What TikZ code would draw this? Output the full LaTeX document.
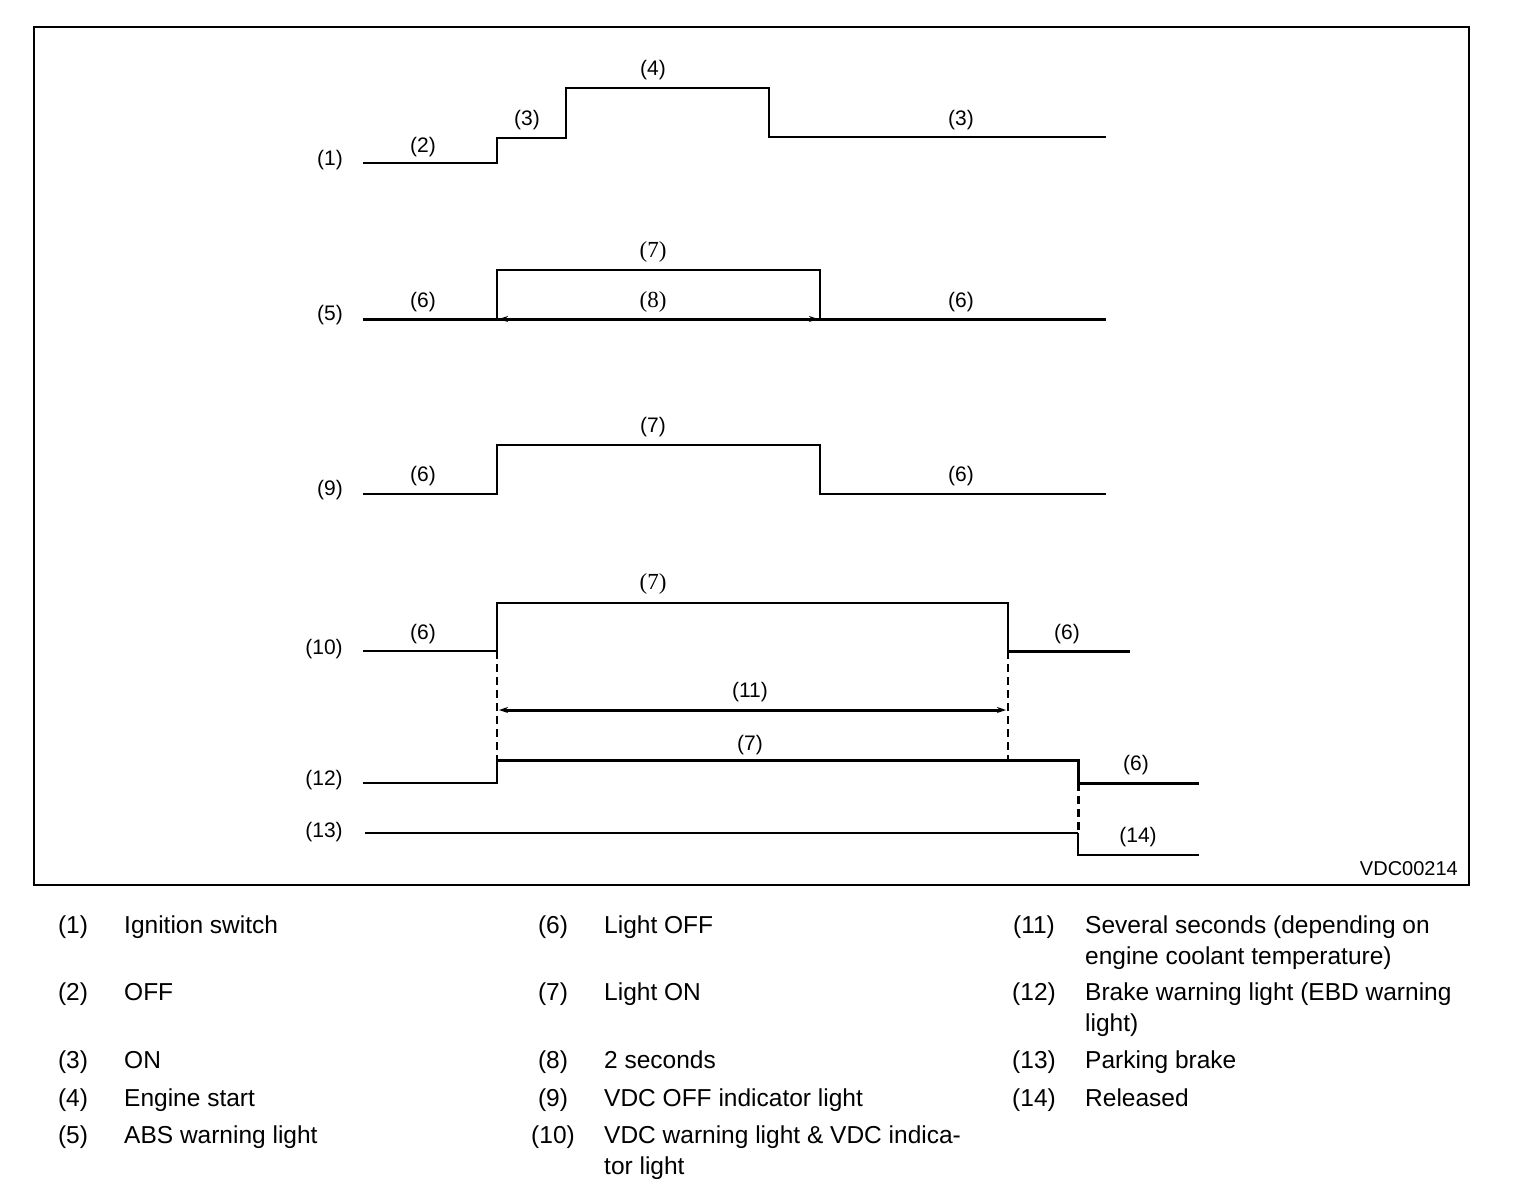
\documentclass[tikz,border=0pt]{standalone}
\usepackage{fontspec}
\setmainfont{Liberation Sans}
\newfontfamily\serifl{Liberation Serif}
\usetikzlibrary{arrows.meta}
\begin{document}
\begin{tikzpicture}[x=1pt,y=-1pt,
  lab/.style={font=\fontsize{21}{23}\selectfont, inner sep=0pt},
  slab/.style={font=\serifl\fontsize{23}{25}\selectfont, inner sep=0pt},
  leg/.style={font=\fontsize{24.5}{31}\selectfont, inner sep=0pt, anchor=base west, align=left},
  legn/.style={font=\fontsize{24.5}{31}\selectfont, inner sep=0pt, anchor=base},
  wave/.style={line width=2.5pt, line join=miter},
  thin wave/.style={line width=1.6pt},
  thick wave/.style={line width=3pt},
  dim/.style={line width=3pt, {Stealth[length=9pt,width=6pt]}-{Stealth[length=9pt,width=6pt]}},
  vdash/.style={line width=2.2pt, dash pattern=on 8pt off 5pt}]
\useasboundingbox (0,0) rectangle (1520,1202);
\draw[line width=2pt] (34,27) rectangle (1469,885);

% Row 1: Ignition switch
\node[lab] (r1) at (330,160) {(1)};
\draw[wave] (363,163) -- (497,163) -- (497,138) -- (566,138) -- (566,88) -- (769,88) -- (769,137) -- (1106,137);
\node[lab] (r1a) at (423,147) {(2)};
\node[lab] (r1b) at (527,120) {(3)};
\node[lab] (r1c) at (653,70) {(4)};
\node[lab] (r1d) at (961,120) {(3)};

% Row 5: ABS warning light
\node[lab] (r5) at (330,315) {(5)};
\draw[thick wave] (363,319) -- (1106,319);
\draw[wave] (497,319) -- (497,270) -- (820,270) -- (820,319);
\coordinate (a8l) at (499,319);
\coordinate (a8r) at (818,319);
\draw[dim, line width=2pt] (a8l) -- (a8r);
\node[lab] (r5a) at (423,302) {(6)};
\node[slab] (r5b) at (653,252) {(7)};
\node[slab] (r5c) at (653,302) {(8)};
\node[lab] (r5d) at (961,302) {(6)};

% Row 9: VDC OFF indicator light
\node[lab] (r9) at (330,490) {(9)};
\draw[wave] (363,494) -- (497,494) -- (497,445) -- (820,445) -- (820,494) -- (1106,494);
\node[lab] (r9a) at (423,476) {(6)};
\node[lab] (r9b) at (653,427) {(7)};
\node[lab] (r9c) at (961,476) {(6)};

% Row 10: VDC warning light
\node[lab] (r10) at (324,649) {(10)};
\draw[thin wave] (363,651) -- (497,651);
\draw[wave, line width=2pt] (497,651) -- (497,603) -- (1008,603) -- (1008,651);
\draw[thick wave] (1008,651) -- (1130,651);
\node[lab] (r10a) at (423,634) {(6)};
\node[slab] (r10b) at (653,584) {(7)};
\node[lab] (r10c) at (1067,634) {(6)};

% dashed guides and (11)
\draw[vdash] (497,651) -- (497,760);
\draw[vdash, line width=1.6pt] (1008,651) -- (1008,760);
\coordinate (a11l) at (499,710);
\coordinate (a11r) at (1006,710);
\draw[dim] (a11l) -- (a11r);
\node[lab] (r11) at (750,692) {(11)};

% Row 12: Brake warning light
\node[lab] (r12) at (324,780) {(12)};
\draw[wave, line width=2pt] (363,783) -- (497,783) -- (497,760);
\draw[thick wave] (497,760) -- (1078,760) -- (1078,783) -- (1199,783);
\node[lab] (r12a) at (750,745) {(7)};
\node[lab] (r12b) at (1136,765) {(6)};
\draw[vdash, line width=3pt] (1078,783) -- (1078,833);

% Row 13: Parking brake
\node[lab] (r13) at (324,832) {(13)};
\draw[thin wave] (365,833) -- (1078,833);
\draw[wave, line width=2pt] (1078,833) -- (1078,855) -- (1199,855);
\node[lab] (r13a) at (1138,837) {(14)};

\node[font=\fontsize{20}{22}\selectfont, inner sep=0pt, anchor=base east] (code) at (1458,875) {VDC00214};

% Legend column 1
\node[legn] (n1) at (73,933) {(1)};  \node[leg] (t1) at (124,933) {Ignition switch};
\node[legn] (n2) at (73,1000) {(2)}; \node[leg] (t2) at (124,1000) {OFF};
\node[legn] (n3) at (73,1068) {(3)}; \node[leg] (t3) at (124,1068) {ON};
\node[legn] (n4) at (73,1106) {(4)}; \node[leg] (t4) at (124,1106) {Engine start};
\node[legn] (n5) at (73,1143) {(5)}; \node[leg] (t5) at (124,1143) {ABS warning light};

% Legend column 2
\node[legn] (n6) at (553,933) {(6)};   \node[leg] (t6) at (604,933) {Light OFF};
\node[legn] (n7) at (553,1000) {(7)};  \node[leg] (t7) at (604,1000) {Light ON};
\node[legn] (n8) at (553,1068) {(8)};  \node[leg] (t8) at (604,1068) {2 seconds};
\node[legn] (n9) at (553,1106) {(9)};  \node[leg] (t9) at (604,1106) {VDC OFF indicator light};
\node[legn] (n10) at (553,1143) {(10)}; \node[leg] (t10) at (604,1174) {VDC warning light \& VDC indica-\\tor light};

% Legend column 3
\node[legn] (n11) at (1034,933) {(11)}; \node[leg] (t11) at (1085,964) {Several seconds (depending on\\engine coolant temperature)};
\node[legn] (n12) at (1034,1000) {(12)}; \node[leg] (t12) at (1085,1031) {Brake warning light (EBD warning\\light)};
\node[legn] (n13) at (1034,1068) {(13)}; \node[leg] (t13) at (1085,1068) {Parking brake};
\node[legn] (n14) at (1034,1106) {(14)}; \node[leg] (t14) at (1085,1106) {Released};
\end{tikzpicture}
\end{document}
